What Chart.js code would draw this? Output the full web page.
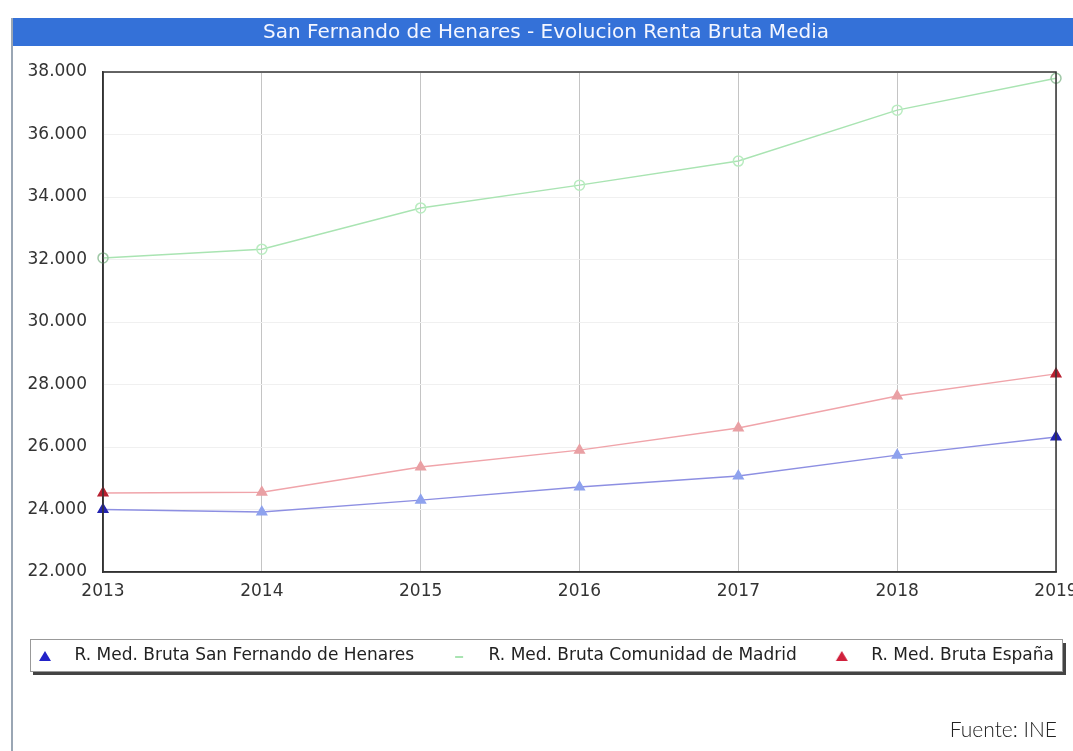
<!DOCTYPE html>
<html>
<head>
<meta charset="utf-8">
<script src="https://cdn.jsdelivr.net/npm/chart.js@4"></script>
<style>
  html, body { margin: 0; padding: 0; background: #fff; }
  .chart-container { position: relative; width: 1073px; height: 751px; }
</style>
</head>
<body>
<div class="chart-container">
  <canvas id="myChart"></canvas>
</div>
<script>
const years = ['2013', '2014', '2015', '2016', '2017', '2018', '2019'];
const sanFernando = [24000, 23920, 24300, 24720, 25070, 25740, 26320];
const madrid = [32050, 32330, 33650, 34380, 35150, 36780, 37800];
const espana = [24530, 24550, 25360, 25900, 26610, 27630, 28340];
const yTicks = [22000, 24000, 26000, 28000, 30000, 32000, 34000, 36000, 38000];

const TITLE = 'San Fernando de Henares - Evolucion Renta Bruta Media';
const fmt = (v) => String(v).replace(/\B(?=(\d{3})+(?!\d))/g, '.');

// endpoints darker, middle points pale (as in the original)
const edgeColor = (dark, light) => (c) =>
  (c.dataIndex === 0 || c.dataIndex === years.length - 1) ? dark : light;

// legend symbol: small mark placed inside a wider transparent box
const LEG_W = 52, LEG_M = 31;
function legendMark(kind, color) {
  const c = document.createElement('canvas');
  c.width = LEG_W; c.height = 14;
  const g = c.getContext('2d');
  g.fillStyle = color;
  if (kind === 'triangle') {
    g.beginPath();
    g.moveTo(LEG_M, 2); g.lineTo(LEG_M + 6, 12); g.lineTo(LEG_M - 6, 12);
    g.closePath(); g.fill();
  } else {
    g.fillRect(LEG_M - 4, 7, 8, 2);
  }
  return c;
}

// blue title bar, frame, plot box, legend box, source note
const decorations = {
  id: 'decorations',
  beforeDraw(chart) {
    const ctx = chart.ctx;
    ctx.save();
    ctx.fillStyle = '#3471d8';
    ctx.fillRect(12, 18, chart.width - 12, 28);
    ctx.fillStyle = '#9aa6b4';
    ctx.fillRect(11, 18, 2, chart.height - 18);
    ctx.fillStyle = '#f4f6ff';
    ctx.font = '20px "DejaVu Sans"';
    ctx.textAlign = 'center';
    ctx.textBaseline = 'middle';
    ctx.fillText(TITLE, 546, 33);
    ctx.restore();
  },
  afterDraw(chart) {
    const ctx = chart.ctx;
    const a = chart.chartArea;
    ctx.save();
    ctx.strokeStyle = '#333';
    ctx.lineWidth = 1.5;
    ctx.strokeRect(a.left, a.top, a.right - a.left, a.bottom - a.top);

    const cy = chart.legend.top + 22.5;
    ctx.fillStyle = '#444';
    ctx.fillRect(33, cy + 16, chart.width - 41, 3);
    ctx.fillRect(chart.width - 10, cy - 13, 3, 32);
    ctx.strokeStyle = '#999';
    ctx.lineWidth = 1;
    ctx.strokeRect(30.5, cy - 16.5, chart.width - 41, 32);

    ctx.fillStyle = '#222';
    ctx.font = '300 21px Lato';
    ctx.textAlign = 'right';
    ctx.textBaseline = 'middle';
    ctx.fillText('Fuente: INE', 1057, 730);
    ctx.restore();
  }
};

const ctx = document.getElementById('myChart').getContext('2d');
const chartInstance = new Chart(ctx, {
  type: 'line',
  data: {
    labels: years,
    datasets: [
      {
        label: 'R. Med. Bruta San Fernando de Henares',
        data: sanFernando,
        borderColor: '#8d8fe2',
        borderWidth: 1.5,
        pointStyle: 'triangle',
        pointRadius: 5.5,
        pointBackgroundColor: edgeColor('#2323b0', '#8ea2ee'),
        pointBorderColor: edgeColor('#2323b0', '#8ea2ee'),
        fill: false,
      },
      {
        label: 'R. Med. Bruta Comunidad de Madrid',
        data: madrid,
        borderColor: '#a9e4b2',
        borderWidth: 1.5,
        pointStyle: 'circle',
        pointRadius: 5,
        pointBackgroundColor: 'rgba(255,255,255,0)',
        pointBorderColor: edgeColor('#9fc8a6', '#b9ecc0'),
        fill: false,
      },
      {
        label: 'R. Med. Bruta España',
        data: espana,
        borderColor: '#f0a4aa',
        borderWidth: 1.5,
        pointStyle: 'triangle',
        pointRadius: 5.5,
        pointBackgroundColor: edgeColor('#b82030', '#e9a0a4'),
        pointBorderColor: edgeColor('#b82030', '#e9a0a4'),
        fill: false,
      },
    ],
  },
  options: {
    responsive: true,
    maintainAspectRatio: false,
    animation: false,
    layout: { padding: { left: 0, right: 0, top: 72, bottom: 76.5 } },
    scales: {
      x: {
        offset: false,
        grid: { color: '#c4c4c4', drawTicks: false },
        border: { color: '#333', width: 1.5 },
        ticks: { color: '#333', font: { family: 'DejaVu Sans', size: 17 }, padding: 9, maxRotation: 0 },
        afterFit: (scale) => { scale.height = 61.5; scale.paddingRight = 17; },
      },
      y: {
        min: 22000,
        max: 38000,
        afterBuildTicks: (scale) => { scale.ticks = yTicks.map((v) => ({ value: v })); },
        grid: { color: '#f0f0f0', drawTicks: false },
        border: { color: '#333', width: 1.5 },
        ticks: { color: '#333', font: { family: 'DejaVu Sans', size: 17 }, padding: 16, callback: (v) => fmt(v) },
        afterFit: (scale) => { scale.width = 103; },
      },
    },
    plugins: {
      title: { display: false },
      legend: {
        position: 'bottom',
        align: 'start',
        labels: {
          usePointStyle: true,
          pointStyleWidth: LEG_W,
          padding: 14,
          color: '#222',
          font: { family: 'DejaVu Sans', size: 17 },
          generateLabels: (chart) => {
            const items = Chart.defaults.plugins.legend.labels.generateLabels(chart);
            items[0].pointStyle = legendMark('triangle', '#2323c8');
            items[1].pointStyle = legendMark('line', '#a9e4b2');
            items[2].pointStyle = legendMark('triangle', '#d0203c');
            return items;
          },
        },
      },
      tooltip: { enabled: true },
    },
  },
  plugins: [decorations],
});
</script>
</body>
</html>
